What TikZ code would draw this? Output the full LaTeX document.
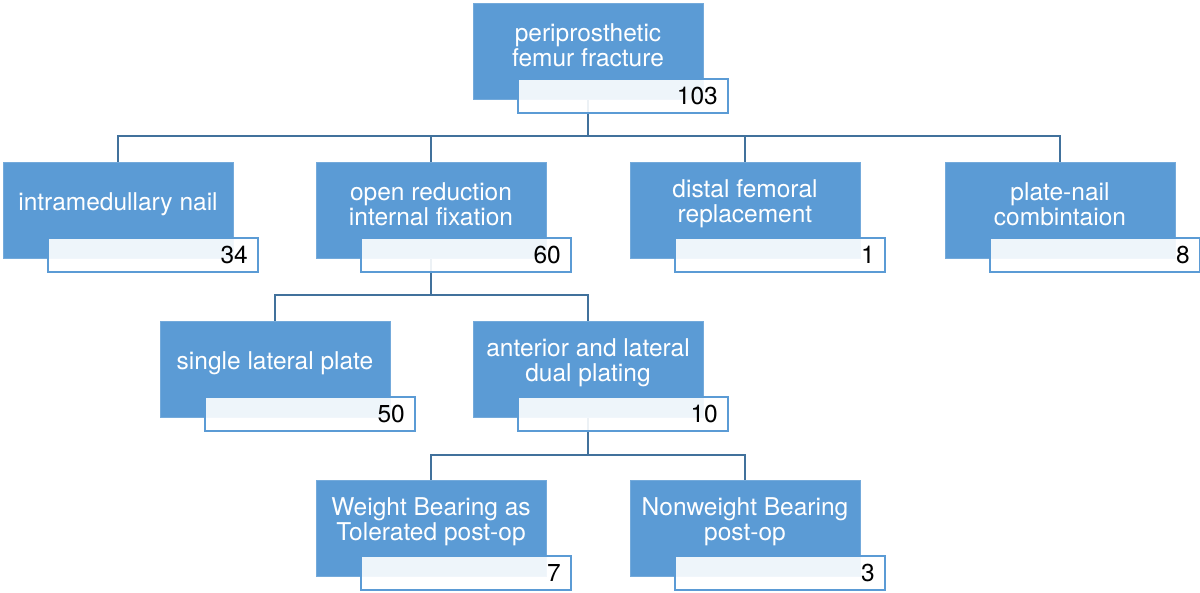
\documentclass[tikz,border=0pt]{standalone}
\usepackage{fontspec}
\setmainfont{TeX Gyre Heros}
\pgfdeclarelayer{background}
\pgfsetlayers{background,main}
\definecolor{boxblue}{HTML}{5B9BD5}
\definecolor{lineblue}{HTML}{41719C}
\tikzset{
 bluebox/.style={rectangle, fill=boxblue, draw=boxblue!85!white, line width=0.8pt, minimum width=230pt, minimum height=96pt, anchor=north west, inner sep=0pt, outer sep=0pt},
 countbox/.style={rectangle, draw=boxblue, line width=2pt, fill=white, fill opacity=0.9, text opacity=1, minimum width=210pt, minimum height=34pt, anchor=north west, inner sep=0pt, outer sep=0pt},
 labeltext/.style={text=white, align=center, font=\fontsize{24.5}{25}\selectfont, inner sep=0pt},
 numtext/.style={text=black, font=\fontsize{24.5}{25}\selectfont, anchor=east, inner sep=0pt},
 conn/.style={draw=lineblue, line width=2.5pt}
}
\newcommand\chartentry[5]{%
 \node[bluebox] (#1) at (#2,#3) {};
 \node[labeltext] (#1t) at ([yshift=6pt]#1.center) {#4};
 \node[countbox] (#1c) at ([xshift=45pt,yshift=-76pt]#1.north west) {};
 \node[numtext] (#1n) at ([xshift=-10pt]#1c.east) {#5};
}
\begin{document}
\begin{tikzpicture}[x=1pt,y=-1pt]
\useasboundingbox (0,0) rectangle (1200,592);
\chartentry{b0}{473}{3}{periprosthetic\\femur fracture}{103}
\chartentry{b1}{3}{162}{intramedullary nail}{34}
\chartentry{b2}{316}{162}{open reduction\\internal fixation}{60}
\chartentry{b3}{630}{162}{distal femoral\\replacement}{1}
\chartentry{b4}{945}{162}{plate-nail\\combintaion}{8}
\chartentry{b5}{160}{321}{single lateral plate}{50}
\chartentry{b6}{473}{321}{anterior and lateral\\dual plating}{10}
\chartentry{b7}{316}{480}{Weight Bearing as\\Tolerated post-op}{7}
\chartentry{b8}{630}{480}{Nonweight Bearing\\post-op}{3}
\coordinate (j0) at (588,136);
\coordinate (j2) at (431,295);
\coordinate (j6) at (588,455);
\begin{pgfonlayer}{background}
\draw[conn] (b0.center) -- (j0);
\draw[conn] (j0) -| (b1.north);
\draw[conn] (j0) -| (b2.north);
\draw[conn] (j0) -| (b3.north);
\draw[conn] (j0) -| (b4.north);
\draw[conn] (b2.center) -- (j2);
\draw[conn] (j2) -| (b5.north);
\draw[conn] (j2) -| (b6.north);
\draw[conn] (b6.center) -- (j6);
\draw[conn] (j6) -| (b7.north);
\draw[conn] (j6) -| (b8.north);
\end{pgfonlayer}
\end{tikzpicture}
\end{document}
